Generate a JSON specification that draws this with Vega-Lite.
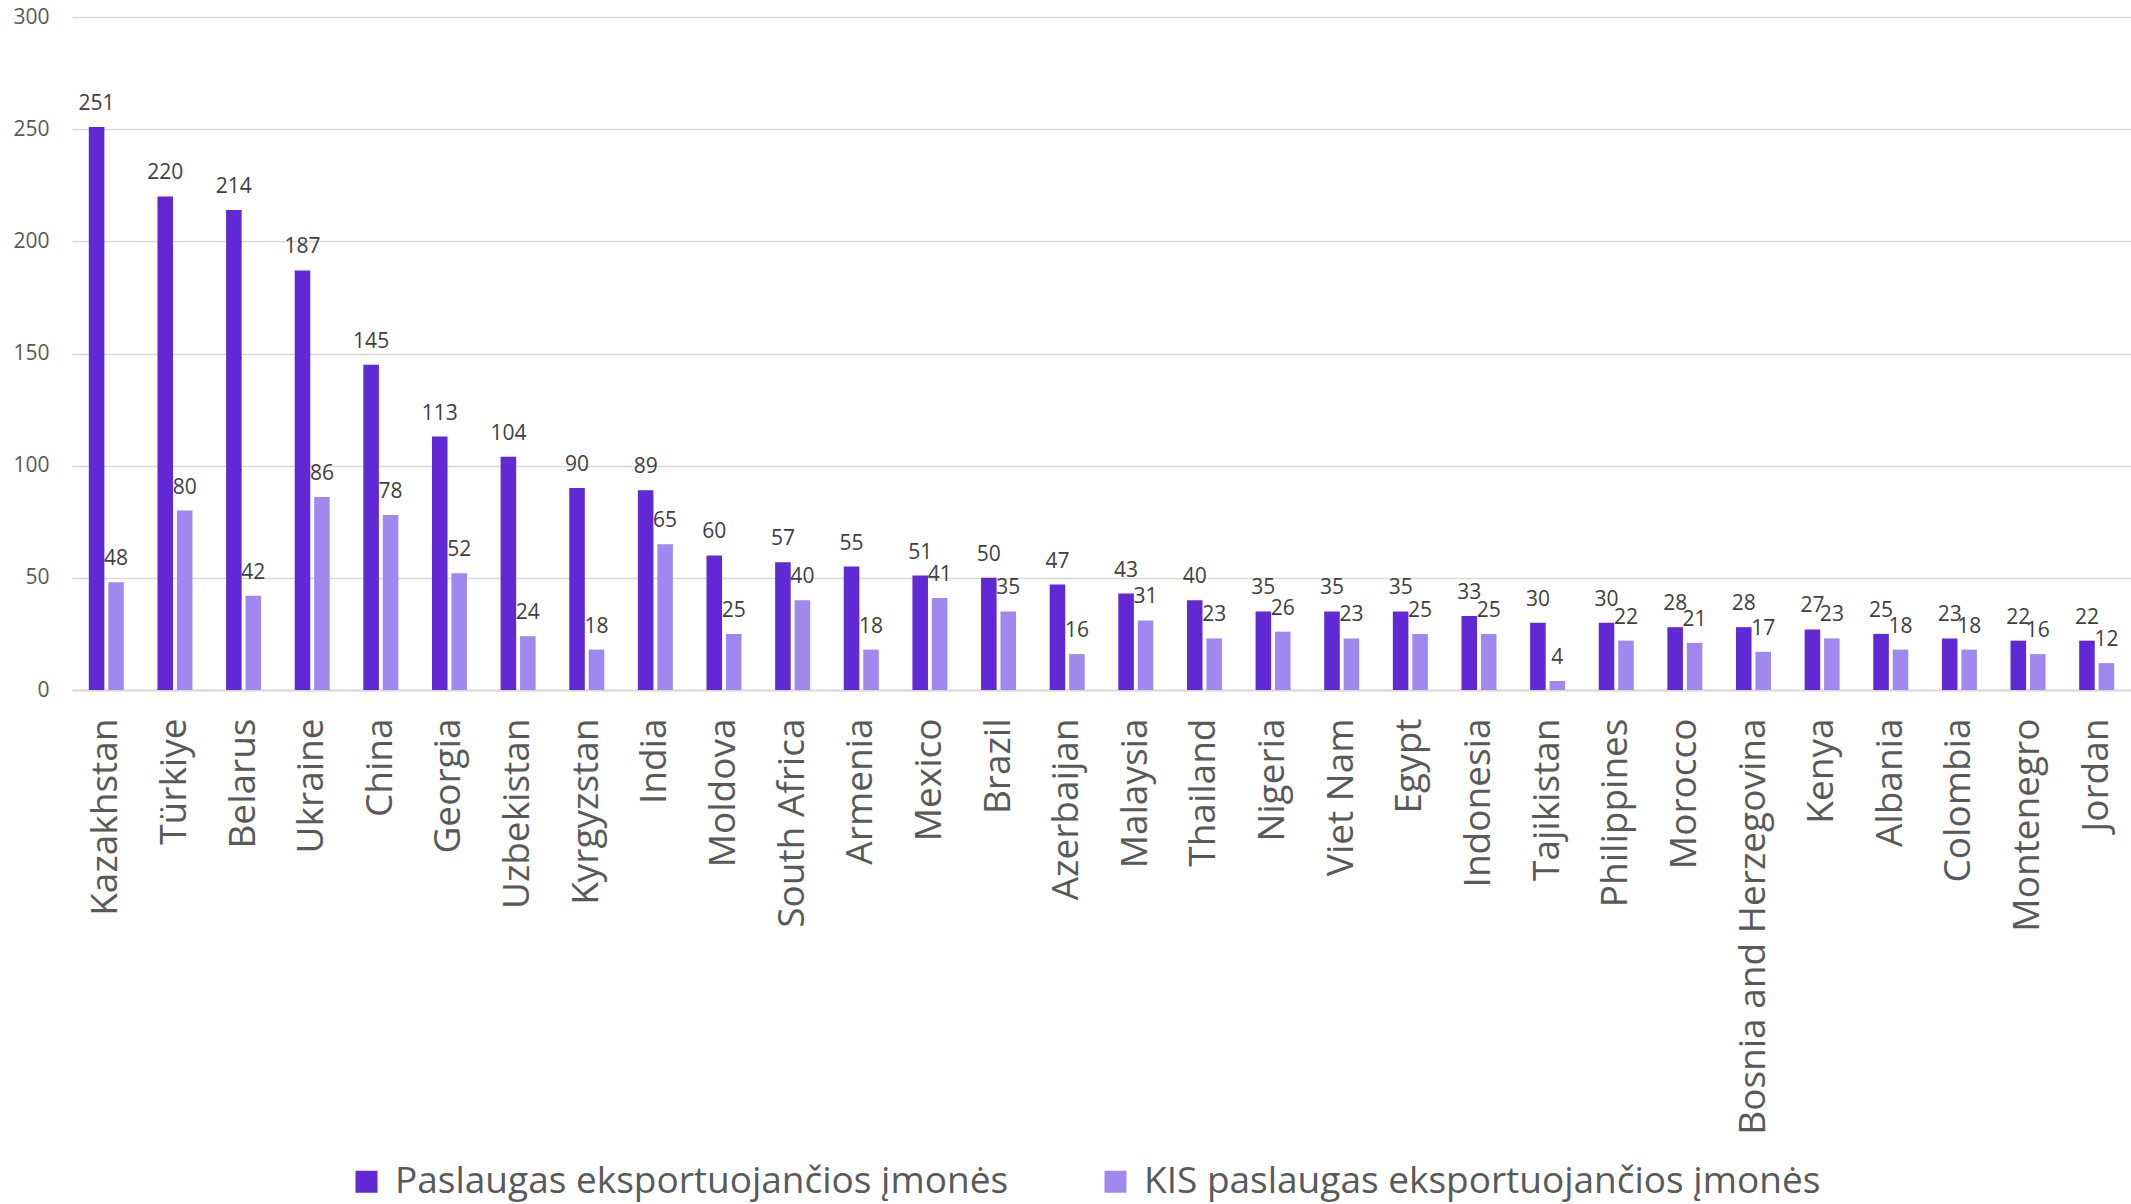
{
  "$schema": "https://vega.github.io/schema/vega-lite/v6.json",
  "autosize": "none",
  "width": 2059,
  "height": 673,
  "padding": {"left": 72, "top": 17, "right": 0, "bottom": 514},
  "background": "white",
  "config": {
    "view": {"stroke": null},
    "font": "Open Sans"
  },
  "data": {
    "values": [
      {"country": "Kazakhstan", "series": "Paslaugas eksportuojančios įmonės", "value": 251},
      {"country": "Kazakhstan", "series": "KIS paslaugas eksportuojančios įmonės", "value": 48},
      {"country": "Türkiye", "series": "Paslaugas eksportuojančios įmonės", "value": 220},
      {"country": "Türkiye", "series": "KIS paslaugas eksportuojančios įmonės", "value": 80},
      {"country": "Belarus", "series": "Paslaugas eksportuojančios įmonės", "value": 214},
      {"country": "Belarus", "series": "KIS paslaugas eksportuojančios įmonės", "value": 42},
      {"country": "Ukraine", "series": "Paslaugas eksportuojančios įmonės", "value": 187},
      {"country": "Ukraine", "series": "KIS paslaugas eksportuojančios įmonės", "value": 86},
      {"country": "China", "series": "Paslaugas eksportuojančios įmonės", "value": 145},
      {"country": "China", "series": "KIS paslaugas eksportuojančios įmonės", "value": 78},
      {"country": "Georgia", "series": "Paslaugas eksportuojančios įmonės", "value": 113},
      {"country": "Georgia", "series": "KIS paslaugas eksportuojančios įmonės", "value": 52},
      {"country": "Uzbekistan", "series": "Paslaugas eksportuojančios įmonės", "value": 104},
      {"country": "Uzbekistan", "series": "KIS paslaugas eksportuojančios įmonės", "value": 24},
      {"country": "Kyrgyzstan", "series": "Paslaugas eksportuojančios įmonės", "value": 90},
      {"country": "Kyrgyzstan", "series": "KIS paslaugas eksportuojančios įmonės", "value": 18},
      {"country": "India", "series": "Paslaugas eksportuojančios įmonės", "value": 89},
      {"country": "India", "series": "KIS paslaugas eksportuojančios įmonės", "value": 65},
      {"country": "Moldova", "series": "Paslaugas eksportuojančios įmonės", "value": 60},
      {"country": "Moldova", "series": "KIS paslaugas eksportuojančios įmonės", "value": 25},
      {"country": "South Africa", "series": "Paslaugas eksportuojančios įmonės", "value": 57},
      {"country": "South Africa", "series": "KIS paslaugas eksportuojančios įmonės", "value": 40},
      {"country": "Armenia", "series": "Paslaugas eksportuojančios įmonės", "value": 55},
      {"country": "Armenia", "series": "KIS paslaugas eksportuojančios įmonės", "value": 18},
      {"country": "Mexico", "series": "Paslaugas eksportuojančios įmonės", "value": 51},
      {"country": "Mexico", "series": "KIS paslaugas eksportuojančios įmonės", "value": 41},
      {"country": "Brazil", "series": "Paslaugas eksportuojančios įmonės", "value": 50},
      {"country": "Brazil", "series": "KIS paslaugas eksportuojančios įmonės", "value": 35},
      {"country": "Azerbaijan", "series": "Paslaugas eksportuojančios įmonės", "value": 47},
      {"country": "Azerbaijan", "series": "KIS paslaugas eksportuojančios įmonės", "value": 16},
      {"country": "Malaysia", "series": "Paslaugas eksportuojančios įmonės", "value": 43},
      {"country": "Malaysia", "series": "KIS paslaugas eksportuojančios įmonės", "value": 31},
      {"country": "Thailand", "series": "Paslaugas eksportuojančios įmonės", "value": 40},
      {"country": "Thailand", "series": "KIS paslaugas eksportuojančios įmonės", "value": 23},
      {"country": "Nigeria", "series": "Paslaugas eksportuojančios įmonės", "value": 35},
      {"country": "Nigeria", "series": "KIS paslaugas eksportuojančios įmonės", "value": 26},
      {"country": "Viet Nam", "series": "Paslaugas eksportuojančios įmonės", "value": 35},
      {"country": "Viet Nam", "series": "KIS paslaugas eksportuojančios įmonės", "value": 23},
      {"country": "Egypt", "series": "Paslaugas eksportuojančios įmonės", "value": 35},
      {"country": "Egypt", "series": "KIS paslaugas eksportuojančios įmonės", "value": 25},
      {"country": "Indonesia", "series": "Paslaugas eksportuojančios įmonės", "value": 33},
      {"country": "Indonesia", "series": "KIS paslaugas eksportuojančios įmonės", "value": 25},
      {"country": "Tajikistan", "series": "Paslaugas eksportuojančios įmonės", "value": 30},
      {"country": "Tajikistan", "series": "KIS paslaugas eksportuojančios įmonės", "value": 4},
      {"country": "Philippines", "series": "Paslaugas eksportuojančios įmonės", "value": 30},
      {"country": "Philippines", "series": "KIS paslaugas eksportuojančios įmonės", "value": 22},
      {"country": "Morocco", "series": "Paslaugas eksportuojančios įmonės", "value": 28},
      {"country": "Morocco", "series": "KIS paslaugas eksportuojančios įmonės", "value": 21},
      {"country": "Bosnia and Herzegovina", "series": "Paslaugas eksportuojančios įmonės", "value": 28},
      {"country": "Bosnia and Herzegovina", "series": "KIS paslaugas eksportuojančios įmonės", "value": 17},
      {"country": "Kenya", "series": "Paslaugas eksportuojančios įmonės", "value": 27},
      {"country": "Kenya", "series": "KIS paslaugas eksportuojančios įmonės", "value": 23},
      {"country": "Albania", "series": "Paslaugas eksportuojančios įmonės", "value": 25},
      {"country": "Albania", "series": "KIS paslaugas eksportuojančios įmonės", "value": 18},
      {"country": "Colombia", "series": "Paslaugas eksportuojančios įmonės", "value": 23},
      {"country": "Colombia", "series": "KIS paslaugas eksportuojančios įmonės", "value": 18},
      {"country": "Montenegro", "series": "Paslaugas eksportuojančios įmonės", "value": 22},
      {"country": "Montenegro", "series": "KIS paslaugas eksportuojančios įmonės", "value": 16},
      {"country": "Jordan", "series": "Paslaugas eksportuojančios įmonės", "value": 22},
      {"country": "Jordan", "series": "KIS paslaugas eksportuojančios įmonės", "value": 12}
    ]
  },
  "encoding": {
    "x": {
      "field": "country",
      "type": "nominal",
      "sort": null,
      "scale": {"paddingInner": 0.49, "paddingOuter": 0.245},
      "axis": {
        "title": null,
        "labelAngle": -90,
        "labelAlign": "right",
        "labelBaseline": "middle",
        "labelFontSize": 37,
        "labelColor": "#595959",
        "labelPadding": 28,
        "ticks": false,
        "domainColor": "#D9D9D9",
        "domainWidth": 2,
        "labelLimit": 600
      }
    },
    "xOffset": {
      "field": "series",
      "type": "nominal",
      "sort": ["Paslaugas eksportuojančios įmonės", "KIS paslaugas eksportuojančios įmonės"],
      "scale": {"paddingInner": 0.2, "paddingOuter": 0}
    },
    "y": {
      "field": "value",
      "type": "quantitative",
      "scale": {"domain": [0, 300]},
      "axis": {
        "title": null,
        "values": [0, 50, 100, 150, 200, 250, 300],
        "labelFontSize": 21,
        "labelColor": "#595959",
        "labelPadding": 23,
        "ticks": false,
        "domain": false,
        "gridColor": "#D9D9D9",
        "gridWidth": 1.5
      }
    }
  },
  "layer": [
    {
      "mark": {"type": "bar"},
      "encoding": {
        "color": {
          "field": "series",
          "type": "nominal",
          "scale": {
            "domain": ["Paslaugas eksportuojančios įmonės", "KIS paslaugas eksportuojančios įmonės"],
            "range": ["#6129D4", "#9F89EF"]
          },
          "legend": {
            "title": null,
            "orient": "none",
            "direction": "horizontal",
            "legendX": 276,
            "legendY": 1146,
            "symbolType": "square",
            "symbolSize": 484,
            "symbolStrokeWidth": 0,
            "labelFontSize": 37,
            "labelColor": "#595959",
            "labelOffset": 10,
            "columnPadding": 88,
            "labelLimit": 800
          }
        }
      }
    },
    {
      "mark": {"type": "text", "baseline": "alphabetic", "dy": -17, "fontSize": 21, "color": "#404040"},
      "encoding": {
        "text": {"field": "value", "type": "quantitative"}
      }
    }
  ]
}
